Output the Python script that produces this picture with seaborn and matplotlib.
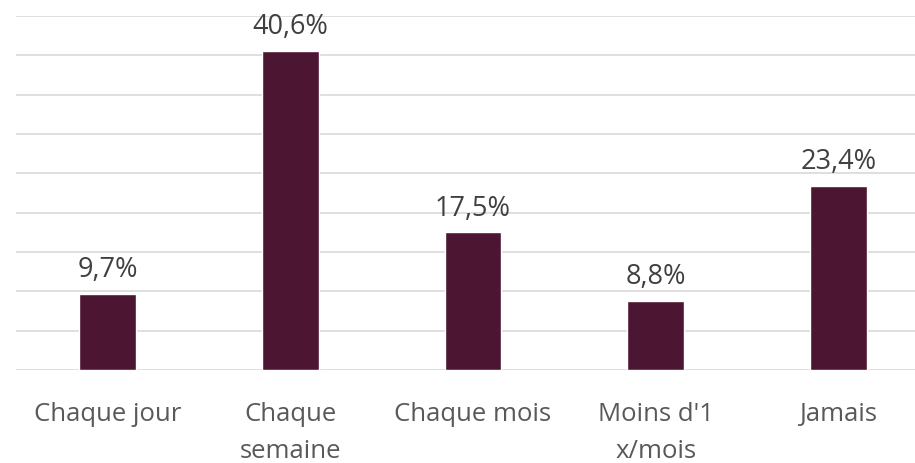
import numpy as np
import pandas as pd
import matplotlib
matplotlib.use("Agg")
import matplotlib.pyplot as plt
import seaborn as sns

categories = ["Chaque jour", "Chaque\nsemaine", "Chaque mois", "Moins d'1\nx/mois", "Jamais"]
values = [9.7, 40.6, 17.5, 8.8, 23.4]
labels = ["9,7%", "40,6%", "17,5%", "8,8%", "23,4%"]


def main():
    df = pd.DataFrame({"freq": categories, "pct": values})

    sns.set_style("white")
    plt.rcParams["font.family"] = ["Open Sans", "DejaVu Sans"]

    fig = plt.figure(figsize=(9.15, 4.63), dpi=100)
    ax = fig.add_axes([0.0176, 0.2009, 0.9986, 0.7646])

    bar_color = "#4C1532"
    sns.barplot(data=df, x="freq", y="pct", color=bar_color, width=0.31,
                saturation=1, ax=ax, zorder=3)

    ax.set_ylim(0, 45)
    ax.set_xlim(-0.5, 4.5)
    ax.set_yticks(np.arange(0, 46, 5))
    ax.yaxis.grid(True, color="#D9D9D9", linewidth=1.2, zorder=0)
    ax.set_yticklabels([])
    ax.tick_params(axis="y", length=0)
    ax.tick_params(axis="x", length=0, pad=23, labelsize=18.5, colors="#595959")
    for t in ax.get_xticklabels():
        t.set_linespacing(1.62)
    ax.set_xlabel("")
    ax.set_ylabel("")
    for s in ax.spines.values():
        s.set_visible(False)

    for i, (v, lab) in enumerate(zip(values, labels)):
        ax.annotate(lab, (i, v), xytext=(0, 7), textcoords="offset points",
                    ha="center", va="bottom", fontsize=19.5, color="#404040")

    fig.savefig("out.png", dpi=100)


if __name__ == "__main__":
    main()
